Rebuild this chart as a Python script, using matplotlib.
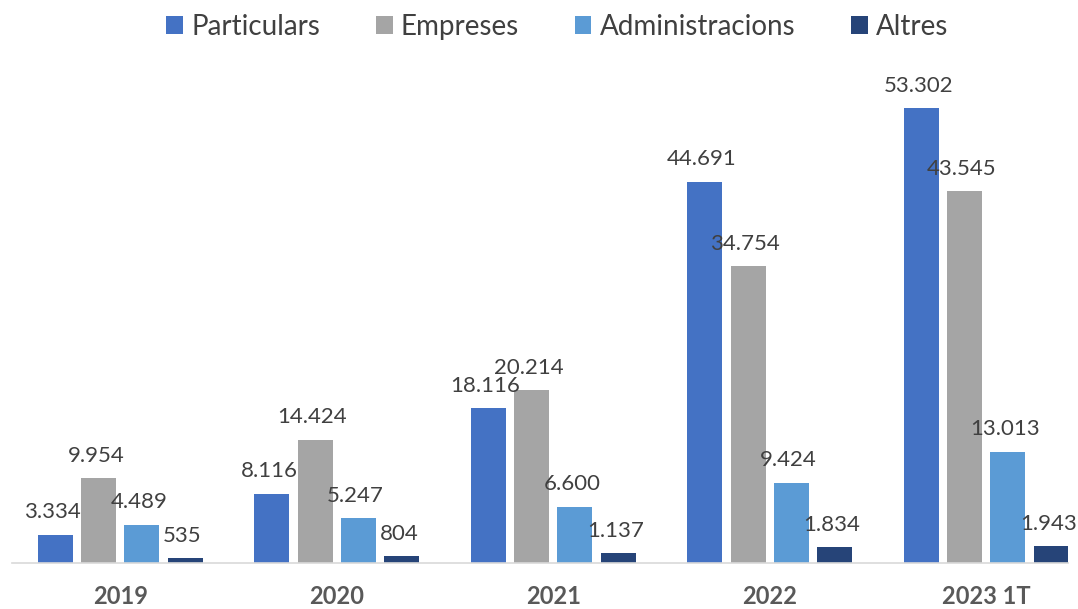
import numpy as np
import matplotlib.pyplot as plt

# dades
anys = ['2019', '2020', '2021', '2022', '2023 1T']
particulars = [3334, 8116, 18116, 44691, 53302]
empreses = [9954, 14424, 20214, 34754, 43545]
administracions = [4489, 5247, 6600, 9424, 13013]
altres = [535, 804, 1137, 1834, 1943]

series = [
    ('Particulars', particulars, '#4472C4'),
    ('Empreses', empreses, '#A5A5A5'),
    ('Administracions', administracions, '#5B9BD5'),
    ('Altres', altres, '#264478'),
]

plt.rcParams['font.family'] = ['Lato', 'DejaVu Sans']

fig = plt.figure(figsize=(10.78, 6.09), dpi=100)
fig.patch.set_facecolor('white')
ax = fig.add_axes([12 / 1078, 46 / 609, 1056 / 1078, 503 / 609])

x = np.arange(len(anys))
step = 0.2
width = 0.162

for i, (nom, vals, color) in enumerate(series):
    pos = x + (i - 1.5) * step
    ax.bar(pos, vals, width=width, color=color, label=nom)
    for p, v in zip(pos, vals):
        txt = f'{v:,}'.replace(',', '.')
        ax.annotate(txt, (p, v), xytext=(-2, 9), textcoords='offset points',
                    ha='center', va='bottom', fontsize=16, color='#404040')

ax.set_xlim(-0.5, -0.5 + 1056 / 216.5)
ax.set_ylim(0, 58930)
ax.set_xticks(x)
ax.set_xticklabels(anys, fontsize=17, fontweight='bold', color='#595959')
ax.tick_params(axis='x', length=0, pad=16)
ax.set_yticks([])
for s in ['top', 'right', 'left']:
    ax.spines[s].set_visible(False)
ax.spines['bottom'].set_color('#D9D9D9')
ax.spines['bottom'].set_linewidth(1.2)

fig.legend(loc='upper center', bbox_to_anchor=(0.517, 1.018), ncol=4, frameon=False,
           fontsize=20, handlelength=0.6, handleheight=0.6, handletextpad=0.3,
           columnspacing=2.0, labelcolor='#404040')

fig.savefig('out.png', dpi=100)
